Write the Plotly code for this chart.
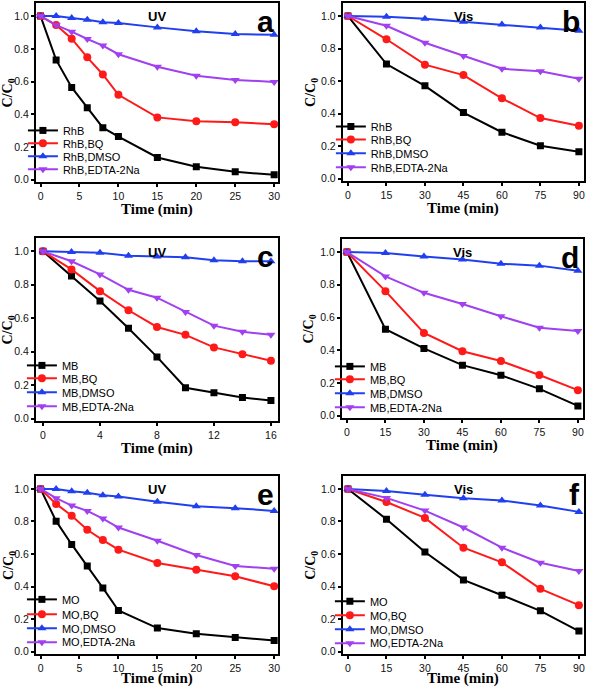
import plotly.graph_objects as go

# ---------------- data ----------------
t_uv_30 = [0, 2, 4, 6, 8, 10, 15, 20, 25, 30]
t_uv_16 = [0, 2, 4, 6, 8, 10, 12, 14, 16]
t_vis = [0, 15, 30, 45, 60, 75, 90]

# panel a: RhB, UV
a_rhb = [1.0, 0.732, 0.564, 0.44, 0.318, 0.264, 0.136, 0.079, 0.049, 0.03]
a_bq = [1.0, 0.945, 0.862, 0.748, 0.643, 0.519, 0.381, 0.357, 0.351, 0.339]
a_dmso = [1.0, 1.0, 0.988, 0.978, 0.963, 0.957, 0.931, 0.907, 0.89, 0.886]
a_edta = [1.0, 0.945, 0.905, 0.86, 0.82, 0.767, 0.69, 0.635, 0.61, 0.598]

# panel b: RhB, Vis
b_rhb = [1.0, 0.705, 0.571, 0.407, 0.286, 0.203, 0.166]
b_bq = [1.0, 0.857, 0.701, 0.637, 0.494, 0.373, 0.326]
b_dmso = [1.0, 0.996, 0.983, 0.965, 0.948, 0.929, 0.909]
b_edta = [1.0, 0.94, 0.836, 0.755, 0.676, 0.66, 0.614]

# panel c: MB, UV
c_mb = [1.0, 0.853, 0.703, 0.54, 0.369, 0.185, 0.155, 0.126, 0.108]
c_bq = [1.0, 0.892, 0.762, 0.648, 0.548, 0.501, 0.426, 0.385, 0.346]
c_dmso = [1.0, 0.996, 0.992, 0.974, 0.969, 0.965, 0.947, 0.941, 0.941]
c_edta = [1.0, 0.941, 0.862, 0.77, 0.723, 0.637, 0.556, 0.519, 0.501]

# panel d: MB, Vis
d_mb = [1.0, 0.529, 0.411, 0.309, 0.247, 0.164, 0.06]
d_bq = [1.0, 0.761, 0.506, 0.394, 0.334, 0.249, 0.156]
d_dmso = [1.0, 0.994, 0.973, 0.954, 0.929, 0.917, 0.886]
d_edta = [1.0, 0.851, 0.751, 0.683, 0.608, 0.537, 0.517]

# panel e: MO, UV
e_mo = [1.0, 0.802, 0.659, 0.527, 0.392, 0.253, 0.145, 0.11, 0.088, 0.069]
e_bq = [1.0, 0.908, 0.835, 0.749, 0.686, 0.627, 0.545, 0.504, 0.463, 0.402]
e_dmso = [1.0, 1.0, 0.986, 0.976, 0.961, 0.953, 0.922, 0.894, 0.882, 0.865]
e_edta = [1.0, 0.943, 0.898, 0.865, 0.818, 0.763, 0.682, 0.594, 0.527, 0.51]

# panel f: MO, Vis
f_mo = [1.0, 0.814, 0.612, 0.441, 0.347, 0.251, 0.127]
f_bq = [1.0, 0.92, 0.822, 0.639, 0.549, 0.386, 0.286]
f_dmso = [1.0, 0.988, 0.965, 0.943, 0.929, 0.898, 0.859]
f_edta = [1.0, 0.945, 0.867, 0.763, 0.639, 0.547, 0.496]

suffixes = ["", ",BQ", ",DMSO", ",EDTA-2Na"]
y_ticks = [0.0, 0.2, 0.4, 0.6, 0.8, 1.0]
x_ticks_30 = [0, 5, 10, 15, 20, 25, 30]
x_ticks_16 = [0, 4, 8, 12, 16]
x_ticks_vis = [0, 15, 30, 45, 60, 75, 90]

# ---------------- styles ----------------
W, H = 590, 688
colors = ["#000000", "#FF1A1A", "#2040F0", "#A040F0"]
symbols = ["square", "circle", "triangle-up", "triangle-down"]
msizes = [7, 8, 8, 8]
SANS = "Liberation Sans"
SERIF = "Liberation Serif"


def px_x(p):
    return p / W


def px_y(p):
    return 1 - p / H


panels = [
    dict(name="a", light="UV", dye="RhB", t=t_uv_30, ys=[a_rhb, a_bq, a_dmso, a_edta],
         xt=x_ticks_30, xr=[-0.6, 30.5], box=(36, 279, 3, 183),
         leg_y=[131, 144, 157, 170], leg_x=65, ytx=-27, xty=-27),
    dict(name="b", light="Vis", dye="RhB", t=t_vis, ys=[b_rhb, b_bq, b_dmso, b_edta],
         xt=x_ticks_vis, xr=[-2, 92], box=(344, 586, 3, 182),
         leg_y=[127, 140, 154, 168], leg_x=374, ytx=-32, xty=-27),
    dict(name="c", light="UV", dye="MB", t=t_uv_16, ys=[c_mb, c_bq, c_dmso, c_edta],
         xt=x_ticks_16, xr=[-0.5, 16.5], box=(36, 279, 239, 423),
         leg_y=[367, 380, 394, 408], leg_x=64, ytx=-27, xty=-27),
    dict(name="d", light="Vis", dye="MB", t=t_vis, ys=[d_mb, d_bq, d_dmso, d_edta],
         xt=x_ticks_vis, xr=[-2, 92], box=(343, 585, 240, 420),
         leg_y=[368, 381, 395, 409], leg_x=373, ytx=-32, xty=-27),
    dict(name="e", light="UV", dye="MO", t=t_uv_30, ys=[e_mo, e_bq, e_dmso, e_edta],
         xt=x_ticks_30, xr=[-0.6, 30.5], box=(36, 279, 478, 657),
         leg_y=[602, 617, 631, 645], leg_x=64, ytx=-27, xty=-24),
    dict(name="f", light="Vis", dye="MO", t=t_vis, ys=[f_mo, f_bq, f_dmso, f_edta],
         xt=x_ticks_vis, xr=[-2, 92], box=(344, 586, 478, 657),
         leg_y=[604, 618, 632, 646], leg_x=373, ytx=-32, xty=-24),
]

fig = go.Figure()
layout = dict(
    width=W, height=H, margin=dict(l=0, r=0, t=0, b=0),
    paper_bgcolor="white", plot_bgcolor="white", showlegend=True,
)
annotations = []
leg_idx = 0

for i, p in enumerate(panels):
    k = "" if i == 0 else str(i + 1)
    xa, ya = "x" + k, "y" + k
    l, r, t, b = p["box"]
    axis_common = dict(
        showline=True, linewidth=2, linecolor="black", mirror=True,
        ticks="outside", ticklen=3, tickwidth=1.5, tickcolor="black",
        showgrid=False, zeroline=False,
        tickfont=dict(family=SANS, size=10.5, color="#111"),
    )
    layout["xaxis" + k] = dict(
        axis_common, domain=[px_x(l), px_x(r)], range=p["xr"], tickvals=p["xt"],
        anchor=ya,
    )
    layout["yaxis" + k] = dict(
        axis_common, domain=[px_y(b), px_y(t)], range=[-0.015, 1.08], tickvals=y_ticks,
        tickformat=".1f", anchor=xa,
    )
    for j in range(4):
        leg_idx += 1
        lname = "legend" if leg_idx == 1 else "legend" + str(leg_idx)
        fig.add_trace(go.Scatter(
            x=p["t"], y=p["ys"][j], mode="lines+markers",
            name=p["dye"] + suffixes[j],
            line=dict(color=colors[j], width=2),
            marker=dict(symbol=symbols[j], size=msizes[j], color=colors[j]),
            xaxis=xa, yaxis=ya, legend=lname,
        ))
        layout[lname] = dict(
            x=px_x(p["leg_x"] - 42), y=px_y(p["leg_y"][j]), xanchor="left", yanchor="middle",
            bgcolor="rgba(0,0,0,0)", borderwidth=0, itemwidth=30,
            font=dict(family=SANS, size=11, color="black"),
        )
    # axis titles
    annotations.append(dict(
        x=0.5, y=0, xref=xa + " domain", yref=ya + " domain", yshift=p["xty"],
        text="<b>Time (min)</b>", showarrow=False, xanchor="center", yanchor="middle",
        font=dict(family=SERIF, size=15, color="black"),
    ))
    annotations.append(dict(
        x=0, y=0.5, xref=xa + " domain", yref=ya + " domain", xshift=p["ytx"],
        text="<b>C/C<sub>0</sub></b>", showarrow=False, xanchor="center", yanchor="middle",
        textangle=-90, font=dict(family=SERIF, size=14, color="black"),
    ))
    # light label
    annotations.append(dict(
        x=0.5, y=0.975, xref=xa + " domain", yref=ya + " domain", text="<b>" + p["light"] + "</b>",
        showarrow=False, xanchor="center", yanchor="top",
        font=dict(family=SANS, size=13, color="black"),
    ))
    # panel letter
    annotations.append(dict(
        x=0.993, y=1.0, xref=xa + " domain", yref=ya + " domain", text="<b>" + p["name"] + "</b>",
        showarrow=False, xanchor="right", yanchor="top",
        font=dict(family=SANS, size=30, color="black"),
    ))

layout["annotations"] = annotations
fig.update_layout(**layout)
fig.write_html(
    "out.html",
    config={"displayModeBar": False},
    post_script="document.body.style.margin='0px';document.body.style.overflow='hidden';",
)
